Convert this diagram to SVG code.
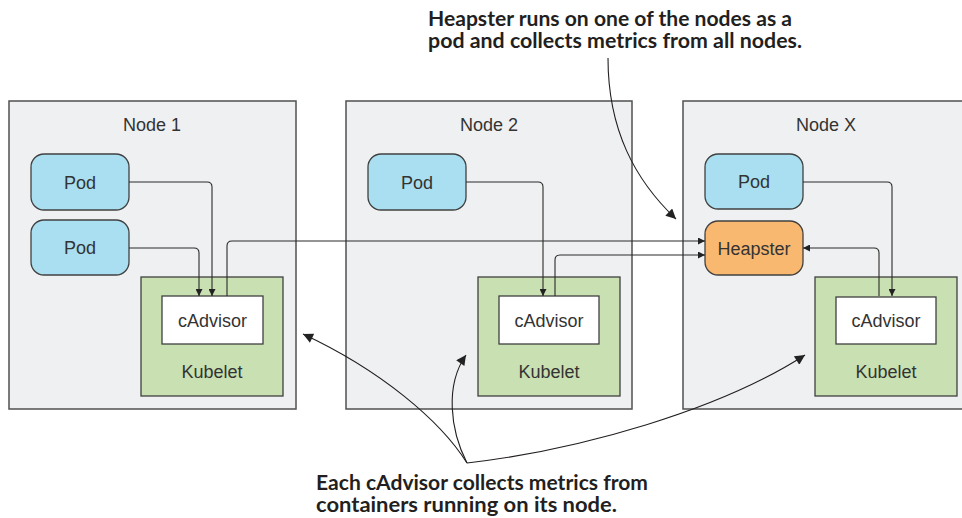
<svg xmlns="http://www.w3.org/2000/svg" width="962" height="518" viewBox="0 0 962 518">
<defs>
<style>
.node{fill:#eff0f2;stroke:#505050;stroke-width:1.5}
.pod{fill:#a9dff0;stroke:#404040;stroke-width:1.3}
.heap{fill:#f9b870;stroke:#404040;stroke-width:1.3}
.kube{fill:#c8e0b2;stroke:#404040;stroke-width:1.3}
.cadv{fill:#ffffff;stroke:#404040;stroke-width:1.3}
.lbl{font-family:"Liberation Sans",Arial,sans-serif;font-size:18px;fill:#333;text-anchor:middle}
.note{font-family:Lato,"Open Sans",sans-serif;font-weight:bold;font-size:20px;fill:#231f20}
.conn{fill:none;stroke:#2b2b2b;stroke-width:1.1}
.ann{fill:none;stroke:#231f20;stroke-width:1.1}
</style>
<marker id="arr" viewBox="0 0 10 10" refX="10" refY="5" markerWidth="8" markerHeight="7" markerUnits="userSpaceOnUse" orient="auto">
<path d="M0,0 L10,5 L0,10 z" fill="#222"/>
</marker>
<marker id="arrBig" viewBox="0 0 10 10" refX="10" refY="5" markerWidth="13" markerHeight="10" markerUnits="userSpaceOnUse" orient="auto">
<path d="M0,0 L10,5 L0,10 z" fill="#222"/>
</marker>
</defs>

<g id="node1">
<rect class="node" x="9" y="101" width="287" height="308"/>
<text class="lbl" x="152" y="131">Node 1</text>
</g>
<g id="node2">
<rect class="node" x="346" y="101" width="286" height="308"/>
<text class="lbl" x="489" y="131">Node 2</text>
</g>
<g id="nodeX">
<rect class="node" x="683" y="101" width="287" height="308"/>
<text class="lbl" x="826" y="131">Node X</text>
</g>

<g id="n1-pod1">
<rect class="pod" x="31" y="154" width="98" height="56" rx="13"/>
<text class="lbl" x="80" y="188.5">Pod</text>
</g>
<g id="n1-pod2">
<rect class="pod" x="31" y="220" width="98" height="55" rx="13"/>
<text class="lbl" x="80" y="254">Pod</text>
</g>
<g id="n1-kubelet">
<rect class="kube" x="141" y="277" width="142" height="119"/>
<text class="lbl" x="212" y="378">Kubelet</text>
</g>
<g id="n1-cadvisor">
<rect class="cadv" x="162" y="296" width="101" height="48"/>
<text class="lbl" x="212.5" y="326.5">cAdvisor</text>
</g>

<g id="n2-pod">
<rect class="pod" x="368" y="154" width="98" height="56" rx="13"/>
<text class="lbl" x="417" y="188.5">Pod</text>
</g>
<g id="n2-kubelet">
<rect class="kube" x="478" y="277" width="142" height="119"/>
<text class="lbl" x="549" y="378">Kubelet</text>
</g>
<g id="n2-cadvisor">
<rect class="cadv" x="499" y="296" width="100" height="48"/>
<text class="lbl" x="549" y="326.5">cAdvisor</text>
</g>

<g id="nX-pod">
<rect class="pod" x="705" y="154" width="98" height="55" rx="13"/>
<text class="lbl" x="754" y="188">Pod</text>
</g>
<g id="nX-heapster">
<rect class="heap" x="705" y="221" width="98" height="54" rx="13"/>
<text class="lbl" x="754" y="254.5">Heapster</text>
</g>
<g id="nX-kubelet">
<rect class="kube" x="815" y="277" width="142" height="119"/>
<text class="lbl" x="886" y="378">Kubelet</text>
</g>
<g id="nX-cadvisor">
<rect class="cadv" x="836" y="297" width="100" height="47"/>
<text class="lbl" x="886" y="326.5">cAdvisor</text>
</g>

<g id="connectors">
<path class="conn" marker-end="url(#arr)" d="M129,182 H207 Q212,182 212,187 V296"/>
<path class="conn" marker-end="url(#arr)" d="M129,248 H194 Q199,248 199,253 V296"/>
<path class="conn" marker-end="url(#arr)" d="M227,296 V246 Q227,241 232,241 H705"/>
<path class="conn" marker-end="url(#arr)" d="M466,182 H538 Q543,182 543,187 V296"/>
<path class="conn" marker-end="url(#arr)" d="M555,296 V260 Q555,255 560,255 H705"/>
<path class="conn" marker-end="url(#arr)" d="M803,182 H887 Q892,182 892,187 V296"/>
<path class="conn" marker-end="url(#arr)" d="M879,296 V253 Q879,248 874,248 H803"/>
</g>

<g id="annotations">
<path class="ann" marker-end="url(#arrBig)" d="M608,58 C608,130 635,180 676,219"/>
<path class="ann" marker-end="url(#arrBig)" d="M467,463 C440,420 380,370 303,334"/>
<path class="ann" marker-end="url(#arrBig)" d="M467,463 C450,430 445,385 466,355"/>
<path class="ann" marker-end="url(#arrBig)" d="M467,463 C580,450 720,410 805,355"/>
<text class="note" x="428" y="26" textLength="364" lengthAdjust="spacingAndGlyphs">Heapster runs on one of the nodes as a</text>
<text class="note" x="428" y="48" textLength="374" lengthAdjust="spacingAndGlyphs">pod and collects metrics from all nodes.</text>
<text class="note" x="316" y="490" textLength="332" lengthAdjust="spacingAndGlyphs">Each cAdvisor collects metrics from</text>
<text class="note" x="316" y="512" textLength="301" lengthAdjust="spacingAndGlyphs">containers running on its node.</text>
</g>
</svg>
